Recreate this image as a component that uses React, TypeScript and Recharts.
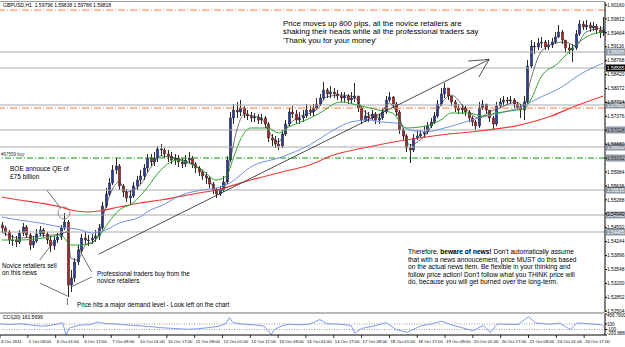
import { Bar, ComposedChart, Line, ReferenceDot, ReferenceLine, XAxis, YAxis } from "recharts";

const FONT = "'Liberation Sans', Arial, sans-serif";

// 2-hour candles, GBPUSD 4 Oct - 25 Oct 2011
const open = [
  1.5466, 1.54585, 1.54485, 1.54285, 1.54285, 1.54235, 1.5446, 1.5461, 1.5441, 1.5416,
  1.5426, 1.54435, 1.54535, 1.54435, 1.54285, 1.54135, 1.54285, 1.5436, 1.54585, 1.54735,
  1.5316, 1.53335, 1.53735, 1.54035, 1.54335, 1.54285, 1.54285, 1.54335, 1.54385, 1.54585,
  1.55135, 1.55435, 1.5571, 1.56035, 1.56135, 1.55635, 1.55485, 1.55335, 1.55385, 1.55635,
  1.55785, 1.55885, 1.56085, 1.56335, 1.56235, 1.56335, 1.5656, 1.56535, 1.56435, 1.56385,
  1.56285, 1.56335, 1.56235, 1.56185, 1.56285, 1.56335, 1.56185, 1.56085, 1.55985, 1.55885,
  1.55835, 1.55685, 1.55535, 1.55435, 1.55535, 1.55735, 1.56285, 1.57335, 1.57535, 1.57485,
  1.57585, 1.57435, 1.57385, 1.57335, 1.5736, 1.57285, 1.57335, 1.57185, 1.56835, 1.56785,
  1.56685, 1.56635, 1.56935, 1.57185, 1.57485, 1.57435, 1.57285, 1.57335, 1.57385, 1.57535,
  1.57485, 1.57585, 1.57685, 1.57835, 1.58035, 1.57935, 1.57985, 1.57935, 1.57885, 1.57835,
  1.57885, 1.57785, 1.57835, 1.57885, 1.57585, 1.57285, 1.57385, 1.57335, 1.57435, 1.57285,
  1.57335, 1.57485, 1.57785, 1.5786, 1.57685, 1.57485, 1.57035, 1.56885, 1.56585, 1.56535,
  1.56835, 1.56885, 1.56935, 1.56985, 1.57135, 1.57235, 1.57385, 1.57685, 1.57935, 1.58085,
  1.57885, 1.57735, 1.57585, 1.57535, 1.57585, 1.57485, 1.57335, 1.57235, 1.57135, 1.57585,
  1.57685, 1.57535, 1.57335, 1.57185, 1.57635, 1.57735, 1.57785, 1.5776, 1.57785, 1.57685,
  1.5761, 1.57535, 1.57735, 1.58635, 1.59135, 1.5911, 1.5921, 1.59235, 1.5911, 1.5916,
  1.59235, 1.5936, 1.59485, 1.59285, 1.59085, 1.59035, 1.59085, 1.59435, 1.59685, 1.5961,
  1.5966, 1.59585, 1.59635, 1.59535, 1.5946,
];
const high = [
  1.54735, 1.54635, 1.54535, 1.5441, 1.54385, 1.54535, 1.5471, 1.5466, 1.5446, 1.54385,
  1.5456, 1.54635, 1.54585, 1.54485, 1.54385, 1.54385, 1.5446, 1.5466, 1.5496, 1.54785,
  1.53535, 1.53835, 1.5416, 1.54435, 1.54485, 1.5441, 1.54435, 1.54535, 1.54685, 1.55235,
  1.55585, 1.55835, 1.5616, 1.56335, 1.56185, 1.55685, 1.5556, 1.55535, 1.55735, 1.55885,
  1.56035, 1.56185, 1.56435, 1.56435, 1.56485, 1.56635, 1.56685, 1.56585, 1.56535, 1.56485,
  1.56435, 1.5641, 1.56335, 1.5641, 1.56485, 1.56385, 1.56235, 1.56135, 1.56035, 1.55985,
  1.55885, 1.55735, 1.55585, 1.55635, 1.55885, 1.56385, 1.57485, 1.57685, 1.57735, 1.57785,
  1.57635, 1.57535, 1.57485, 1.5746, 1.57435, 1.57435, 1.57385, 1.57235, 1.56935, 1.56885,
  1.56835, 1.57035, 1.57285, 1.57585, 1.57635, 1.57535, 1.57485, 1.57535, 1.57685, 1.57635,
  1.57685, 1.57835, 1.57935, 1.58235, 1.58085, 1.58135, 1.58085, 1.58035, 1.57985, 1.57985,
  1.57935, 1.57985, 1.5821, 1.57885, 1.57635, 1.57535, 1.57485, 1.57535, 1.57485, 1.57435,
  1.57585, 1.57885, 1.57985, 1.57885, 1.57735, 1.57535, 1.57085, 1.56935, 1.56685, 1.56935,
  1.57035, 1.57035, 1.57135, 1.57235, 1.57335, 1.57485, 1.57785, 1.58085, 1.5821, 1.58085,
  1.57885, 1.57785, 1.57685, 1.57685, 1.57635, 1.57535, 1.57385, 1.57285, 1.57735, 1.57785,
  1.57685, 1.57535, 1.57385, 1.57735, 1.57835, 1.57885, 1.5786, 1.57885, 1.57835, 1.57735,
  1.57685, 1.57885, 1.58785, 1.59285, 1.59235, 1.59335, 1.5936, 1.59285, 1.59285, 1.59335,
  1.59485, 1.5966, 1.59535, 1.59285, 1.59185, 1.59185, 1.59535, 1.59785, 1.5976, 1.59785,
  1.59735, 1.59735, 1.59685, 1.59635, 1.5986,
];
const low = [
  1.54485, 1.54385, 1.54185, 1.54135, 1.5411, 1.54185, 1.54385, 1.54335, 1.54035, 1.54085,
  1.5421, 1.54385, 1.54335, 1.54185, 1.53985, 1.54035, 1.5421, 1.54285, 1.54535, 1.5286,
  1.52985, 1.53235, 1.5366, 1.53985, 1.54185, 1.54135, 1.54185, 1.54235, 1.54285, 1.54535,
  1.55085, 1.55385, 1.5566, 1.55935, 1.55535, 1.5536, 1.55235, 1.55185, 1.55335, 1.55535,
  1.55685, 1.55785, 1.55985, 1.56135, 1.56135, 1.56235, 1.56385, 1.56335, 1.56235, 1.56185,
  1.5616, 1.5611, 1.56085, 1.5611, 1.56185, 1.56085, 1.5596, 1.55885, 1.55785, 1.55685,
  1.55585, 1.55435, 1.55335, 1.55385, 1.55485, 1.55685, 1.56235, 1.57185, 1.57335, 1.57385,
  1.57335, 1.57285, 1.57235, 1.57235, 1.57185, 1.57185, 1.57085, 1.56735, 1.56635, 1.56585,
  1.56535, 1.56585, 1.56885, 1.57135, 1.57335, 1.57185, 1.57185, 1.57235, 1.57335, 1.57385,
  1.57385, 1.57535, 1.57635, 1.57785, 1.57835, 1.57835, 1.57835, 1.57785, 1.57735, 1.57735,
  1.57685, 1.57685, 1.57735, 1.57485, 1.57185, 1.57235, 1.57235, 1.57285, 1.57185, 1.57185,
  1.57285, 1.57435, 1.57735, 1.57585, 1.57385, 1.56935, 1.56785, 1.56485, 1.5621, 1.56485,
  1.56785, 1.56835, 1.56835, 1.56935, 1.57085, 1.57185, 1.57335, 1.57635, 1.57835, 1.57785,
  1.57635, 1.57485, 1.57435, 1.57435, 1.57385, 1.57235, 1.57135, 1.57035, 1.57085, 1.57535,
  1.57435, 1.57235, 1.57035, 1.57135, 1.57585, 1.57635, 1.5766, 1.57685, 1.57585, 1.57535,
  1.57335, 1.57285, 1.57685, 1.58585, 1.58935, 1.59035, 1.59085, 1.59035, 1.59035, 1.59085,
  1.59185, 1.59335, 1.59185, 1.5896, 1.58935, 1.58735, 1.59035, 1.59385, 1.59535, 1.59535,
  1.59485, 1.5951, 1.59435, 1.59335, 1.59385,
];
const close = [
  1.54585, 1.54485, 1.54285, 1.54285, 1.54235, 1.5446, 1.5461, 1.5441, 1.5416, 1.5426,
  1.54435, 1.54535, 1.54435, 1.54285, 1.54135, 1.54285, 1.5436, 1.54585, 1.54735, 1.5316,
  1.53335, 1.53735, 1.54035, 1.54335, 1.54285, 1.54285, 1.54335, 1.54385, 1.54585, 1.55135,
  1.55435, 1.5571, 1.56035, 1.56135, 1.55635, 1.55485, 1.55335, 1.55385, 1.55635, 1.55785,
  1.55885, 1.56085, 1.56335, 1.56235, 1.56335, 1.5656, 1.56535, 1.56435, 1.56385, 1.56285,
  1.56335, 1.56235, 1.56185, 1.56285, 1.56335, 1.56185, 1.56085, 1.55985, 1.55885, 1.55835,
  1.55685, 1.55535, 1.55435, 1.55535, 1.55735, 1.56285, 1.57335, 1.57535, 1.57485, 1.57585,
  1.57435, 1.57385, 1.57335, 1.5736, 1.57285, 1.57335, 1.57185, 1.56835, 1.56785, 1.56685,
  1.56635, 1.56935, 1.57185, 1.57485, 1.57435, 1.57285, 1.57335, 1.57385, 1.57535, 1.57485,
  1.57585, 1.57685, 1.57835, 1.58035, 1.57935, 1.57985, 1.57935, 1.57885, 1.57835, 1.57885,
  1.57785, 1.57835, 1.57885, 1.57585, 1.57285, 1.57385, 1.57335, 1.57435, 1.57285, 1.57335,
  1.57485, 1.57785, 1.5786, 1.57685, 1.57485, 1.57035, 1.56885, 1.56585, 1.56535, 1.56835,
  1.56885, 1.56935, 1.56985, 1.57135, 1.57235, 1.57385, 1.57685, 1.57935, 1.58085, 1.57885,
  1.57735, 1.57585, 1.57535, 1.57585, 1.57485, 1.57335, 1.57235, 1.57135, 1.57585, 1.57685,
  1.57535, 1.57335, 1.57185, 1.57635, 1.57735, 1.57785, 1.5776, 1.57785, 1.57685, 1.5761,
  1.57535, 1.57735, 1.58635, 1.59135, 1.5911, 1.5921, 1.59235, 1.5911, 1.5916, 1.59235,
  1.5936, 1.59485, 1.59285, 1.59085, 1.59035, 1.59085, 1.59435, 1.59685, 1.5961, 1.5966,
  1.59585, 1.59635, 1.59535, 1.5946, 1.59535,
];

// one label every 8 candles
const dateLabels = [
  "4 Oct 2011", "5 Oct 09:00", "6 Oct 01:00", "6 Oct 17:00", "7 Oct 09:00", "10 Oct 01:00",
  "10 Oct 17:00", "11 Oct 09:00", "12 Oct 01:00", "12 Oct 17:00", "13 Oct 09:00", "14 Oct 01:00",
  "14 Oct 17:00", "17 Oct 09:00", "18 Oct 01:00", "18 Oct 17:00", "19 Oct 09:00", "20 Oct 01:00",
  "20 Oct 17:00", "21 Oct 09:00", "24 Oct 01:00", "24 Oct 17:00",
];

const priceTicks = [
  1.6016, 1.59812, 1.59464, 1.59116, 1.58768, 1.5842, 1.58072, 1.57724, 1.57376, 1.57028,
  1.5668, 1.56332, 1.55984, 1.55636, 1.55288, 1.5494, 1.54592, 1.54244, 1.53896, 1.53548,
  1.532, 1.52852, 1.52504,
];
const cciTicks = [456.76, 100, -100, -293.888];

// moving averages: [candle index, price]
const fastMa = [
  [0, 1.54485], [5, 1.54335], [11, 1.54385], [17, 1.54435], [19, 1.54485], [20, 1.53835],
  [22, 1.53785], [24, 1.54135], [27, 1.54285], [28, 1.54435], [30, 1.55085], [33, 1.55685],
  [34, 1.55735], [36, 1.55485], [40, 1.5566], [43, 1.56085], [46, 1.56385], [50, 1.56335],
  [54, 1.56235], [57, 1.56085], [60, 1.55785], [62, 1.55535], [64, 1.55535], [66, 1.56235],
  [68, 1.57035], [70, 1.5741], [75, 1.57335], [77, 1.57035], [80, 1.56735], [83, 1.5716],
  [86, 1.5736], [91, 1.57535], [94, 1.5786], [98, 1.5791], [102, 1.5786], [105, 1.57485],
  [109, 1.5736], [112, 1.5771], [115, 1.57335], [118, 1.5666], [121, 1.56785], [124, 1.57085],
  [127, 1.5766], [130, 1.5791], [134, 1.57585], [138, 1.57335], [141, 1.57485], [144, 1.57585],
  [149, 1.57735], [151, 1.57635], [153, 1.58285], [156, 1.58985], [160, 1.5921], [163, 1.59235],
  [166, 1.59135], [169, 1.59485], [174, 1.59585],
];
const greenMa = [
  [0, 1.54285], [5, 1.54285], [14, 1.5436], [17, 1.5441], [20, 1.5416], [23, 1.5416],
  [26, 1.5421], [28, 1.5436], [31, 1.54735], [34, 1.55035], [38, 1.5521], [42, 1.55585],
  [46, 1.56035], [51, 1.56285], [54, 1.5621], [58, 1.56035], [62, 1.55785], [65, 1.55885],
  [67, 1.56335], [69, 1.56785], [72, 1.57085], [77, 1.57085], [80, 1.5696], [83, 1.5711],
  [88, 1.57285], [92, 1.5746], [98, 1.57735], [104, 1.57635], [109, 1.57535], [113, 1.5746],
  [117, 1.57085], [121, 1.5711], [127, 1.57285], [130, 1.5746], [135, 1.5746], [139, 1.57385],
  [143, 1.5746], [149, 1.57535], [151, 1.5756], [153, 1.57785], [156, 1.5836], [161, 1.5871],
  [164, 1.58985], [167, 1.59235], [171, 1.59435], [174, 1.59485],
];
const blueMa = [
  [0, 1.5486], [5, 1.54785], [11, 1.5471], [17, 1.5461], [23, 1.54535], [26, 1.5446],
  [30, 1.54535], [34, 1.5471], [40, 1.5486], [43, 1.55035], [46, 1.55135], [52, 1.5541],
  [58, 1.55535], [62, 1.55585], [66, 1.5571], [72, 1.5611], [81, 1.5636], [89, 1.5666],
  [96, 1.57035], [101, 1.57235], [106, 1.57285], [110, 1.57235], [114, 1.5721], [118, 1.57035],
  [123, 1.56985], [127, 1.5706], [138, 1.57335], [150, 1.5761], [156, 1.5786], [162, 1.5811],
  [167, 1.5841], [174, 1.5871],
];
const redMa = [
  [0, 1.5536], [5, 1.55285], [11, 1.5521], [17, 1.5511], [20, 1.55035], [25, 1.54985],
  [28, 1.5501], [34, 1.5511], [40, 1.5521], [46, 1.55285], [57, 1.5546], [62, 1.55535],
  [72, 1.55785], [81, 1.55985], [89, 1.5616], [96, 1.5641], [106, 1.5661], [115, 1.5676],
  [127, 1.5691], [138, 1.5701], [150, 1.5716], [159, 1.57385], [166, 1.57635], [174, 1.57885],
];
const cci = [
  [0, 100], [3, 80], [6, 110], [9, 60], [12, 20], [14, 40], [17, 110], [18, 150], [19, -290],
  [20, -40], [23, 60], [26, 80], [28, 170], [30, 120], [33, 100], [38, 50], [43, 10], [46, -30],
  [50, -60], [54, -90], [57, -70], [60, -30], [63, 20], [65, 120], [66, 330], [67, 150], [70, 90],
  [73, 70], [76, 20], [78, -280], [79, -90], [81, 30], [83, 90], [86, 70], [89, 90], [92, 260],
  [94, 110], [98, 90], [101, 40], [102, -230], [104, -60], [108, 40], [111, 150], [114, -100],
  [117, -200], [121, 30], [124, 100], [127, 200], [130, 60], [136, -140], [139, 50], [141, -200],
  [143, 100], [149, 80], [152, 360], [154, 140], [158, 90], [161, 130], [164, -100], [166, 140],
  [170, 100], [173, 70], [174, -60],
];

const grayLevels = [1.58985, 1.5766, 1.57035, 1.5661, 1.55535, 1.5491, 1.54485];
const bidLevel = 1.58585;
const orangeLevels = [1.60035, 1.57585];
const greenLevel = 1.56335;

type Row = {
  i: number; o: number; h: number; l: number; c: number; range: number[];
  fast?: number; green?: number; blue?: number; red?: number; cci?: number;
};

const rows: Row[] = close.map((c, i) => ({ i, o: open[i], h: high[i], l: low[i], c, range: [low[i], high[i]] }));
fastMa.forEach(([i, v]) => (rows[i].fast = v));
greenMa.forEach(([i, v]) => (rows[i].green = v));
blueMa.forEach(([i, v]) => (rows[i].blue = v));
redMa.forEach(([i, v]) => (rows[i].red = v));
cci.forEach(([i, v]) => (rows[i].cci = v));

function Candle(props: any) {
  const { x, y, width, height, payload } = props;
  if (!payload) return null;
  const { o, h, l, c } = payload;
  const top = Math.min(y, y + height);
  const span = Math.abs(height);
  const k = h === l ? 0 : span / (h - l);
  const cx = Math.round(x + width / 2) + 0.5;
  const yo = top + (h - o) * k;
  const yc = top + (h - c) * k;
  const bull = c >= o;
  return (
    <g>
      <line x1={cx} x2={cx} y1={top} y2={top + span} stroke="#2a2a2a" strokeWidth={1} />
      <rect
        x={cx - 1.2}
        y={Math.min(yo, yc)}
        width={2.4}
        height={Math.max(Math.abs(yc - yo), 0.8)}
        fill={bull ? "#2a3d9c" : "#a32828"}
        stroke="#1a1a1a"
        strokeWidth={0.4}
      />
    </g>
  );
}

function PriceBox(props: any) {
  const { viewBox, text, fill } = props;
  if (!viewBox) return null;
  const x = viewBox.x + viewBox.width;
  const y = viewBox.y;
  return (
    <g>
      <rect x={x + 1} y={y - 3.5} width={19} height={7} fill={fill} />
      <text x={x + 2} y={y + 2} fontSize={4.8} fill="#fff" fontFamily={FONT}>{text}</text>
    </g>
  );
}

function DateTick(props: any) {
  const { x, y, payload } = props;
  const label = dateLabels[Math.round(payload.value / 8)];
  return (
    <g>
      <line x1={x} x2={x} y1={y} y2={y + 3} stroke="#000" strokeWidth={0.8} />
      <text x={x + 1} y={y + 8} fontSize={4.3} fill="#000" fontFamily={FONT}>{label}</text>
    </g>
  );
}

function CciTick(props: any) {
  const { x, y, payload } = props;
  const v = payload.value;
  const text = v === 456.76 ? "456.7600" : v === -293.888 ? "-293.888" : String(v);
  const dy = v === 456.76 ? 3 : v === -293.888 ? 0 : 1.6;
  return (
    <text x={x} y={y + dy} fontSize={4.5} fill="#000" fontFamily={FONT}>{text}</text>
  );
}

const seg = (x1: number, y1: number, x2: number, y2: number) => [{ x: x1, y: y1 }, { x: x2, y: y2 }];

const note: React.CSSProperties = {
  position: "absolute",
  fontFamily: FONT,
  color: "#000",
  whiteSpace: "pre",
};

export default function App() {
  return (
    <div style={{ position: "absolute", left: 0, top: 0, width: 625, height: 347, background: "#fff", overflow: "hidden" }}>
      <div style={{ position: "absolute", left: 0, top: 0 }}>
        <ComposedChart width={625} height={314} data={rows} margin={{ top: 2, right: 0, bottom: 2, left: 0 }}>
          <XAxis dataKey="i" hide />
          <YAxis
            orientation="right"
            width={20}
            domain={[1.52485, 1.60235]}
            ticks={priceTicks}
            interval={0}
            allowDataOverflow
            tickFormatter={(v: number) => v.toFixed(5)}
            tick={{ fontSize: 4.8, fill: "#000", fontFamily: FONT }}
            tickSize={2}
            tickMargin={0}
            axisLine={{ stroke: "#000" }}
            tickLine={{ stroke: "#000" }}
          />
          {grayLevels.map((p) => (
            <ReferenceLine key={p} y={p} stroke="#a9a9a9" strokeWidth={1} label={<PriceBox text={p.toFixed(5)} fill="#8f9aa6" />} />
          ))}
          <ReferenceLine y={bidLevel} stroke="#b0b0b0" strokeWidth={1} label={<PriceBox text={bidLevel.toFixed(5)} fill="#000" />} />
          {orangeLevels.map((p) => (
            <ReferenceLine key={p} y={p} stroke="#ff7b3a" strokeWidth={1} strokeDasharray="7 2 1 2" />
          ))}
          <ReferenceLine y={greenLevel} stroke="#0a9a0a" strokeWidth={1} strokeDasharray="6 2 1 2" label={<PriceBox text={greenLevel.toFixed(5)} fill="#8f9aa6" />} />

          <Line dataKey="red" type="monotone" stroke="#f03a3a" strokeWidth={1.2} dot={false} connectNulls isAnimationActive={false} />
          <Line dataKey="blue" type="monotone" stroke="#6f8fe6" strokeWidth={1} dot={false} connectNulls isAnimationActive={false} />
          <Line dataKey="green" type="monotone" stroke="#2fa52f" strokeWidth={1} dot={false} connectNulls isAnimationActive={false} />
          <Bar dataKey="range" shape={(p: any) => <Candle {...p} />} isAnimationActive={false} />
          <Line dataKey="fast" type="monotone" stroke="#3a3a3a" strokeWidth={0.7} dot={false} connectNulls isAnimationActive={false} />

          {/* trend line with arrow head */}
          <ReferenceLine segment={seg(28, 1.53929, 141, 1.58799)} stroke="#222" strokeWidth={0.8} />
          <ReferenceLine segment={seg(135, 1.5876, 141, 1.58799)} stroke="#222" strokeWidth={0.8} />
          <ReferenceLine segment={seg(138, 1.5836, 141, 1.58799)} stroke="#222" strokeWidth={0.8} />
          {/* annotation pointers */}
          <ReferenceLine segment={seg(13, 1.55535, 17, 1.55085)} stroke="#333" strokeWidth={0.7} />
          <ReferenceDot x={18} y={1.5496} r={6} fill="none" stroke="#777" strokeWidth={0.8} />
          <ReferenceLine segment={seg(11, 1.53785, 15, 1.54235)} stroke="#333" strokeWidth={0.7} />
          <ReferenceLine segment={seg(11, 1.5321, 19, 1.52885)} stroke="#333" strokeWidth={0.7} />
          <ReferenceLine segment={seg(26, 1.53485, 22, 1.5411)} stroke="#333" strokeWidth={0.7} />
          <ReferenceLine segment={seg(26, 1.5336, 20, 1.5311)} stroke="#333" strokeWidth={0.7} />
          <ReferenceLine segment={seg(19, 1.52835, 19, 1.5266)} stroke="#333" strokeWidth={0.7} />
        </ComposedChart>
      </div>

      <div style={{ position: "absolute", left: 0, top: 312 }}>
        <ComposedChart width={625} height={35} data={rows} margin={{ top: 2, right: 0, bottom: 0, left: 0 }}>
          <XAxis
            dataKey="i"
            height={12}
            interval={7}
            tick={<DateTick />}
            tickLine={false}
            tickSize={0}
            tickMargin={0}
            axisLine={{ stroke: "#000" }}
          />
          <YAxis
            orientation="right"
            width={20}
            domain={[-293.888, 456.76]}
            ticks={cciTicks}
            interval={0}
            tick={<CciTick />}
            tickSize={2}
            tickMargin={0}
            axisLine={{ stroke: "#000" }}
            tickLine={{ stroke: "#000" }}
          />
          <ReferenceLine y={100} stroke="#999" strokeDasharray="1 1.5" />
          <ReferenceLine y={-100} stroke="#999" strokeDasharray="1 1.5" />
          <Line dataKey="cci" type="linear" stroke="#6f8ff0" strokeWidth={0.9} dot={false} connectNulls isAnimationActive={false} />
        </ComposedChart>
      </div>

      {/* panel frame */}
      <div style={{ position: "absolute", left: 0, top: 1, width: 605, height: 1, background: "#a0a0a0" }} />
      <div style={{ position: "absolute", left: 0, top: 312, width: 605, height: 2, background: "#b8b8b8" }} />

      <div style={{ ...note, left: 3, top: 2, fontSize: 5, lineHeight: "6px" }}>GBPUSD,H1  1.59796 1.59838 1.59786 1.59818</div>
      <div style={{ ...note, left: 3, top: 314, fontSize: 5, lineHeight: "6px" }}>CCI(20) 161.5699</div>
      <div style={{ ...note, left: 1, top: 152, fontSize: 4.5, lineHeight: "5px", color: "#333" }}>#67559 buy</div>

      <div style={{ ...note, left: 283, top: 19.5, fontSize: 7.8, lineHeight: "8.5px" }}>
        {"Price moves up 800 pips, all the novice retailers are\nshaking their heads while all the professional traders say\n'Thank you for your money'"}
      </div>
      <div style={{ ...note, left: 408, top: 248, fontSize: 6.6, lineHeight: "7.5px" }}>
        <span>Therefore, </span><b>beware of news!</b><span> Don't automatically assume</span>
      </div>
      <div style={{ ...note, left: 408, top: 255.5, fontSize: 6.6, lineHeight: "7.5px" }}>
        {"that with a news annoucement, price MUST do this based\non the actual news item. Be flexible in your thinking and\nfollow price action! Don't follow what you THINK price will\ndo, because you will get burned over the long-term."}
      </div>
      <div style={{ ...note, left: 10, top: 165, fontSize: 6.5, lineHeight: "8px" }}>
        {"BOE annouce QE of\n£75 billion"}
      </div>
      <div style={{ ...note, left: 2, top: 261.5, fontSize: 6.3, lineHeight: "7px" }}>
        {"Novice retailers sell\non this news"}
      </div>
      <div style={{ ...note, left: 97, top: 269.5, fontSize: 6.3, lineHeight: "7px" }}>
        {"Professional traders buy from the\nnovice retailers"}
      </div>
      <div style={{ ...note, left: 77, top: 300.5, fontSize: 6.3, lineHeight: "7px" }}>
        {"Price hits a major demand level - Look left on the chart"}
      </div>
    </div>
  );
}
